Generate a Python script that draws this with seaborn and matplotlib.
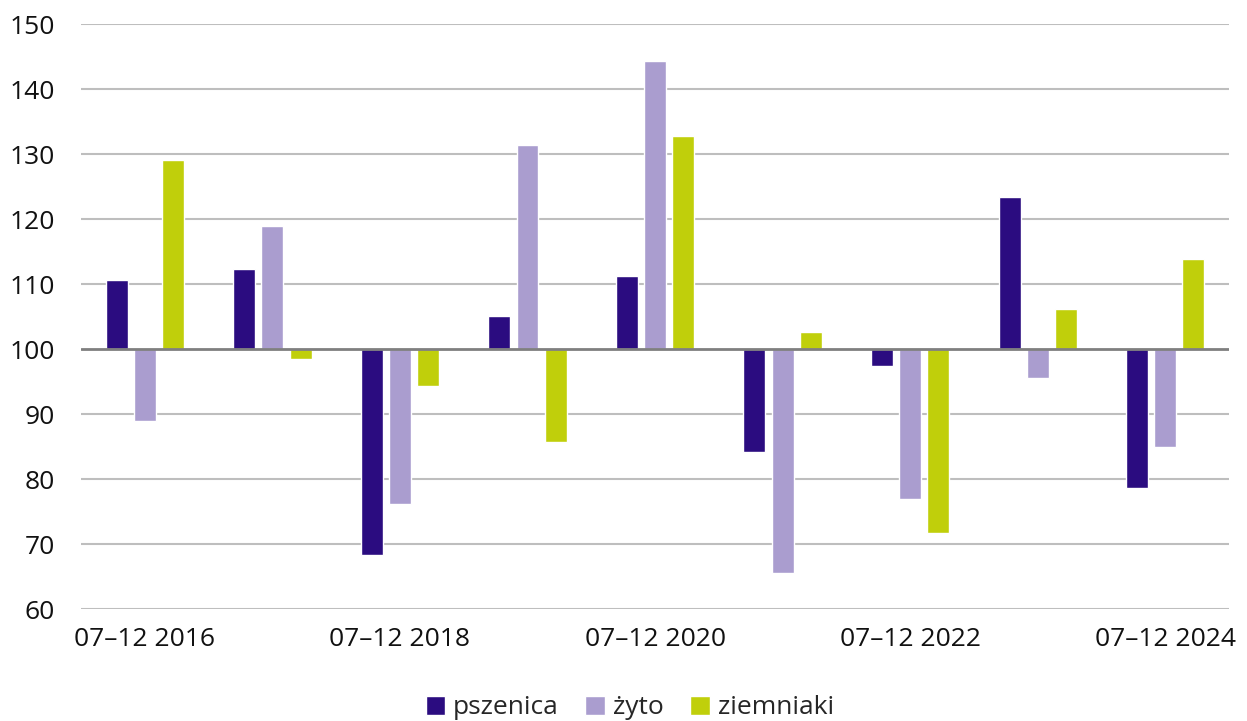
import pandas as pd
import seaborn as sns
import matplotlib.pyplot as plt
from matplotlib.patches import Patch

# data (index values, 100 = baseline)
periods = ['07–12 2016', '07–12 2017', '07–12 2018', '07–12 2019', '07–12 2020',
           '07–12 2021', '07–12 2022', '07–12 2023', '07–12 2024']
pszenica = [110.6, 112.3, 68.3, 105.1, 111.2, 84.2, 97.4, 123.4, 78.6]
zyto = [88.9, 118.9, 76.2, 131.4, 144.3, 65.5, 77.0, 95.5, 85.0]
ziemniaki = [129.1, 98.5, 94.3, 85.7, 132.8, 102.6, 71.7, 106.2, 113.8]
series = ['pszenica', 'żyto', 'ziemniaki']
colors = ['#2B0C80', '#AA9DCF', '#C0CF0B']

# long table, bars hang from the 100 line
df = pd.DataFrame({
    'okres': periods * 3,
    'seria': [s for s in series for _ in periods],
    'wartosc': pszenica + zyto + ziemniaki,
})
df['delta'] = df['wartosc'] - 100

sns.set_style('white')
plt.rcParams['font.family'] = ['Open Sans', 'DejaVu Sans']

fig = plt.figure(figsize=(12.47, 7.21), dpi=100)
ax = fig.add_axes([0.065, 0.1553, 0.9206, 0.8114])

sns.barplot(data=df, x='okres', y='delta', hue='seria', hue_order=series,
            palette=colors, width=0.663, gap=0.22, errorbar=None,
            bottom=100, saturation=1, legend=False, ax=ax, zorder=3)

ax.set_ylim(60, 150)
ax.set_yticks(range(60, 151, 10))
ax.set_xlim(-0.5, len(periods) - 0.5)
ax.set_xticks(range(0, len(periods), 2))
ax.set_xticklabels(periods[::2])
ax.set_xlabel('')
ax.set_ylabel('')

# grid lines, darker one at 100
for v in range(60, 151, 10):
    if v == 100:
        continue
    ax.axhline(v, color='#BEBEBE', lw=1.5, zorder=1)
ax.axhline(100, color='#7F7F7F', lw=2, zorder=4)

sns.despine(ax=ax, left=True, bottom=True)
ax.tick_params(axis='y', length=0, pad=19, labelsize=19, labelcolor='#111111')
ax.tick_params(axis='x', length=0, pad=13, labelsize=19, labelcolor='#111111')

handles = [Patch(facecolor=c, label=s) for s, c in zip(series, colors)]
ax.legend(handles=handles, loc='center', bbox_to_anchor=(0.478, -0.169), ncol=3,
          frameon=False, fontsize=19, handlelength=0.75, handleheight=0.75,
          handletextpad=0.3, columnspacing=1.0)

plt.savefig('out.png', dpi=100)
